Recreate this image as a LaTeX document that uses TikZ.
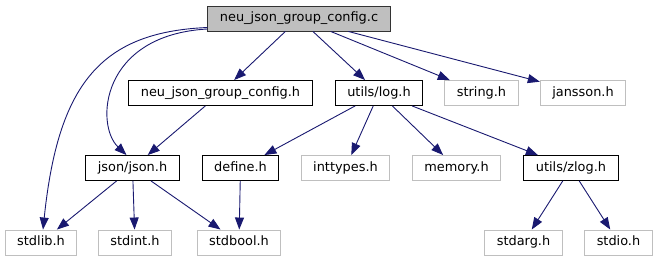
\documentclass[tikz,border=0pt]{standalone}
\usepackage{fontspec}
\setmainfont{DejaVu Sans}
\usetikzlibrary{arrows.meta}

\definecolor{edgeblue}{RGB}{25,25,112}
\definecolor{undoc}{RGB}{191,191,191}

\begin{document}
\begin{tikzpicture}[x=1pt, y=-1pt, font=\fontsize{12.9}{15}\selectfont]
    % Node and edge styles
    \tikzset{file/.style={rectangle, draw=black, fill=white, line width=0.9pt,
                          inner xsep=12pt, inner ysep=0pt, minimum height=25pt,
                          text height=9.6pt, text depth=2.6pt},
             root file/.style={file, fill=undoc, draw=black!80},
             sys file/.style={file, draw=undoc},
             edge/.style={draw=edgeblue, line width=0.9pt,
                          -{Triangle[length=12pt, width=9pt]}}}
    \useasboundingbox (0,0) rectangle (657,261);

    % Top: the source file
    \node[root file] (root) at (299, 18.5) {neu\_json\_group\_config.c};

    % Level 1: direct includes
    \node[file]     (njgc)    at (220.5, 93) {neu\_json\_group\_config.h};
    \node[file]     (log)     at (379, 93)   {utils/log.h};
    \node[sys file] (string)  at (481.5, 93) {string.h};
    \node[sys file] (jansson) at (583, 93)   {jansson.h};

    % Level 2
    \node[file]     (json)     at (132.5, 168) {json/json.h};
    \node[file]     (define)   at (240.5, 168) {define.h};
    \node[sys file] (inttypes) at (345.5, 168) {inttypes.h};
    \node[sys file] (memory)   at (456.5, 168) {memory.h};
    \node[file]     (zlog)     at (571, 168)   {utils/zlog.h};

    % Level 3: system headers
    \node[sys file] (stdlib)  at (41, 242.5)    {stdlib.h};
    \node[sys file] (stdint)  at (135, 242.5)   {stdint.h};
    \node[sys file] (stdbool) at (239, 242.5)   {stdbool.h};
    \node[sys file] (stdarg)  at (523.5, 242.5) {stdarg.h};
    \node[sys file] (stdio)   at (618.5, 242.5) {stdio.h};

    % Edges from the source file
    \draw[edge] ([yshift=-9pt]root.west) .. controls (100,32) and (58,85) .. ([xshift=2pt]stdlib.north);
    \draw[edge] ([yshift=-10.5pt]root.west) .. controls (100,35) and (95,125) .. ([xshift=-6pt]json.north);
    \draw[edge] (root) -- (njgc);
    \draw[edge] (root) -- (log);
    \draw[edge] (root) -- (string);
    \draw[edge] (root) -- (jansson);

    % Edges from the level 1 headers
    \draw[edge] (njgc) -- (json);
    \draw[edge] (log) -- (define);
    \draw[edge] (log) -- (inttypes);
    \draw[edge] (log) -- (memory);
    \draw[edge] (log) -- (zlog);

    % Edges from the level 2 headers
    \draw[edge] (json) -- (stdlib);
    \draw[edge] (json) -- (stdint);
    \draw[edge] (json) -- (stdbool);
    \draw[edge] (define) -- (stdbool);
    \draw[edge] (zlog) -- (stdarg);
    \draw[edge] (zlog) -- (stdio);
\end{tikzpicture}
\end{document}
